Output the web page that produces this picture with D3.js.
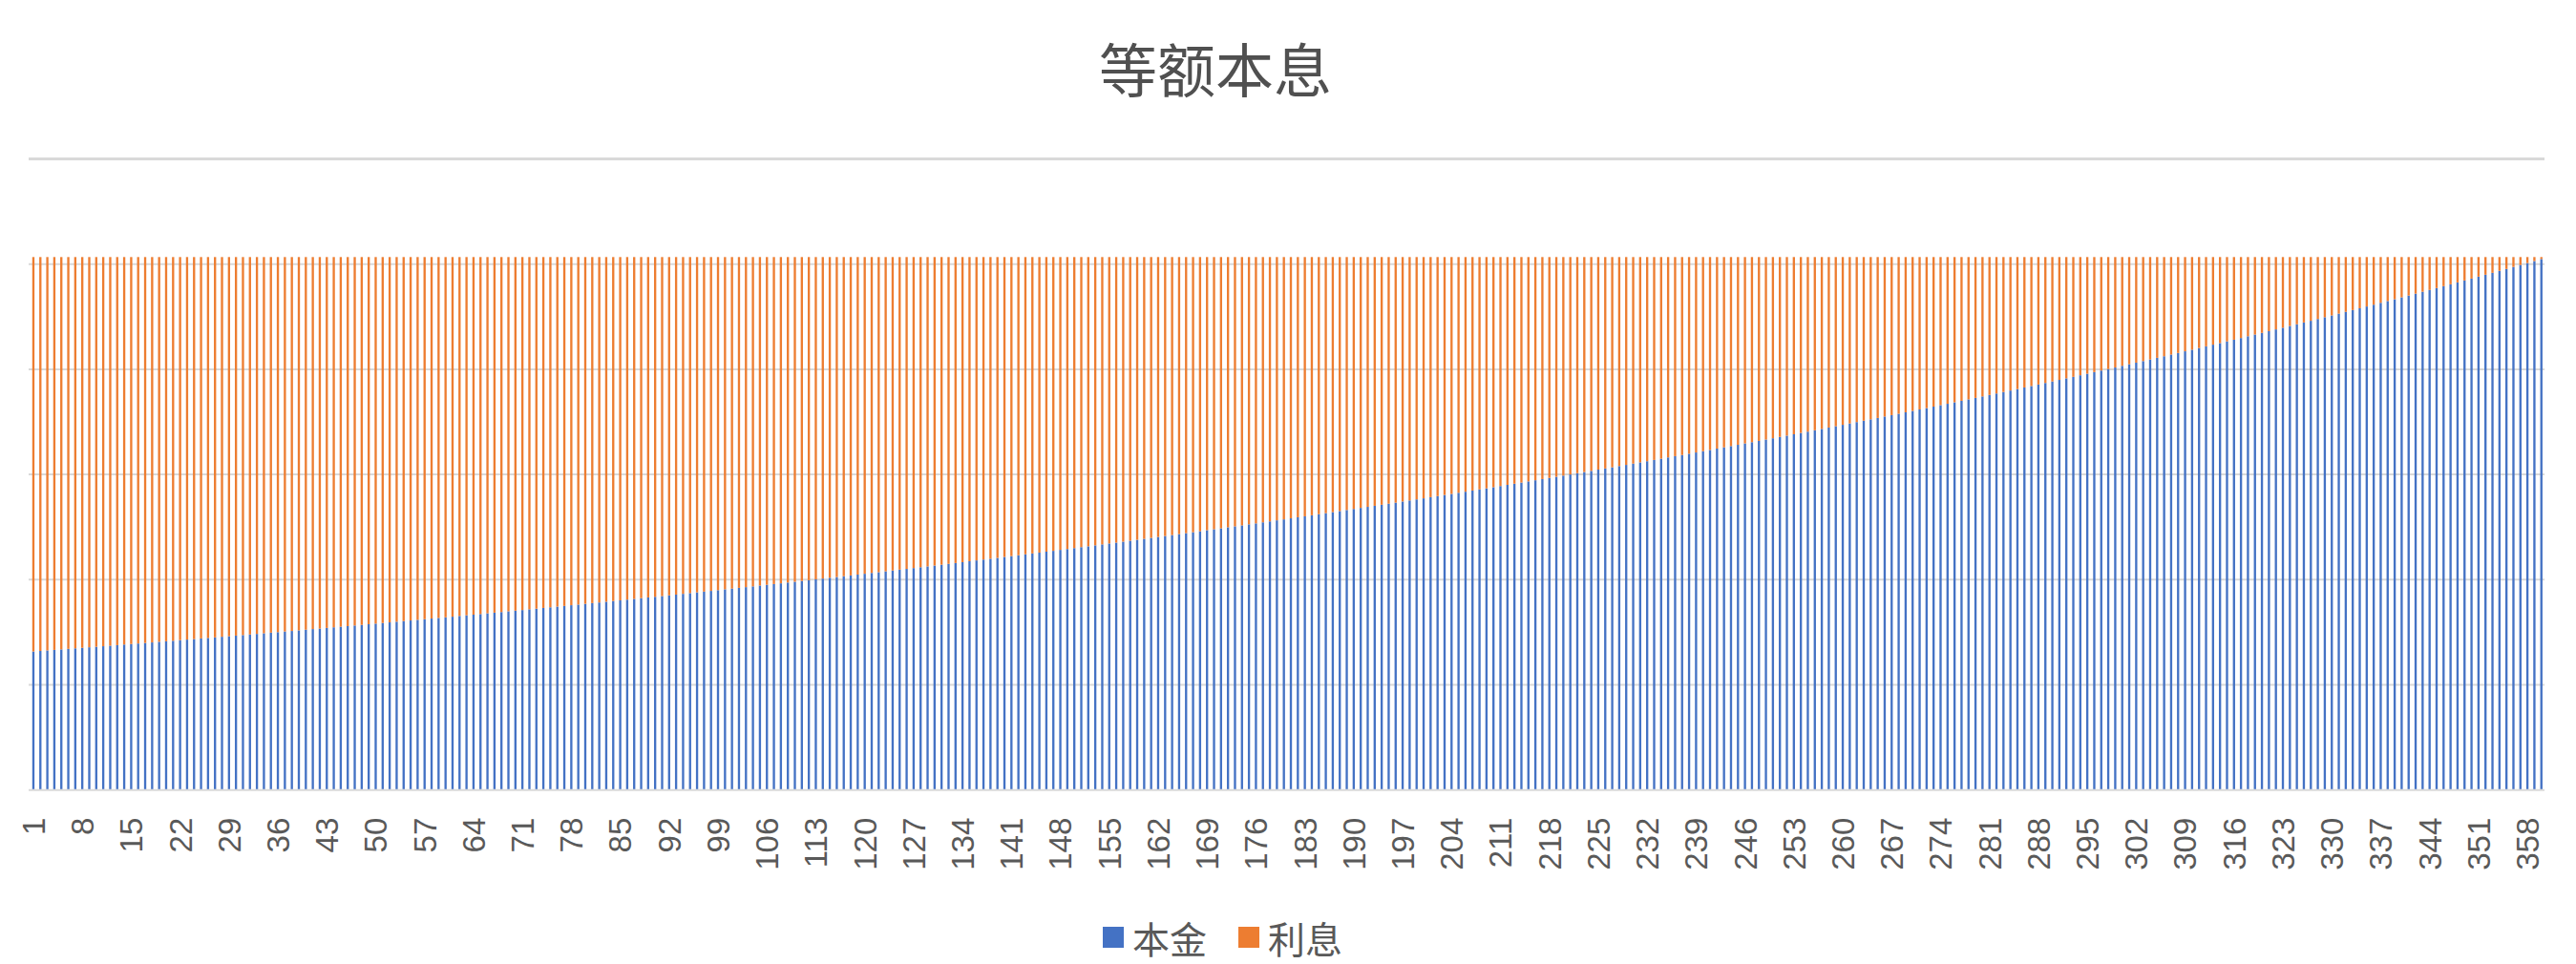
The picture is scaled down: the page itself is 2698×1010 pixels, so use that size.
<!DOCTYPE html>
<html>
<head>
<meta charset="utf-8">
<script src="https://cdn.jsdelivr.net/npm/d3@7"></script>
<style>
  html, body { margin: 0; padding: 0; background: #fff; }
  svg { display: block; }
</style>
</head>
<body>
<svg id="chart" width="2698" height="1010"></svg>
<script>
// monthly principal (本金), month 1..360
const principal = [
  1317,1322,1327,1332,1337,1342,1347,1352,1357,1362,
  1367,1372,1377,1383,1388,1393,1398,1403,1409,1414,
  1419,1425,1430,1435,1441,1446,1451,1457,1462,1468,
  1473,1479,1484,1490,1496,1501,1507,1512,1518,1524,
  1530,1535,1541,1547,1553,1558,1564,1570,1576,1582,
  1588,1594,1600,1606,1612,1618,1624,1630,1636,1642,
  1648,1655,1661,1667,1673,1680,1686,1692,1699,1705,
  1711,1718,1724,1731,1737,1744,1750,1757,1763,1770,
  1777,1783,1790,1797,1803,1810,1817,1824,1831,1837,
  1844,1851,1858,1865,1872,1879,1886,1893,1900,1908,
  1915,1922,1929,1936,1944,1951,1958,1965,1973,1980,
  1988,1995,2003,2010,2018,2025,2033,2040,2048,2056,
  2064,2071,2079,2087,2095,2102,2110,2118,2126,2134,
  2142,2150,2158,2166,2175,2183,2191,2199,2207,2216,
  2224,2232,2241,2249,2257,2266,2274,2283,2291,2300,
  2309,2317,2326,2335,2344,2352,2361,2370,2379,2388,
  2397,2406,2415,2424,2433,2442,2451,2460,2470,2479,
  2488,2498,2507,2516,2526,2535,2545,2554,2564,2573,
  2583,2593,2602,2612,2622,2632,2642,2652,2662,2672,
  2682,2692,2702,2712,2722,2732,2743,2753,2763,2773,
  2784,2794,2805,2815,2826,2836,2847,2858,2868,2879,
  2890,2901,2912,2923,2934,2945,2956,2967,2978,2989,
  3000,3012,3023,3034,3046,3057,3068,3080,3091,3103,
  3115,3126,3138,3150,3162,3174,3185,3197,3209,3221,
  3233,3246,3258,3270,3282,3295,3307,3319,3332,3344,
  3357,3369,3382,3395,3407,3420,3433,3446,3459,3472,
  3485,3498,3511,3524,3537,3551,3564,3577,3591,3604,
  3618,3631,3645,3659,3672,3686,3700,3714,3728,3742,
  3756,3770,3784,3798,3812,3827,3841,3855,3870,3884,
  3899,3914,3928,3943,3958,3973,3988,4002,4017,4033,
  4048,4063,4078,4093,4109,4124,4140,4155,4171,4186,
  4202,4218,4234,4249,4265,4281,4297,4314,4330,4346,
  4362,4379,4395,4412,4428,4445,4461,4478,4495,4512,
  4529,4546,4563,4580,4597,4614,4632,4649,4666,4684,
  4701,4719,4737,4754,4772,4790,4808,4826,4844,4862,
  4881,4899,4917,4936,4954,4973,4992,5010,5029,5048
];

// monthly interest (利息)
const interest = [
  3750,3745,3740,3735,3730,3725,3720,3715,3710,3705,
  3700,3695,3690,3684,3679,3674,3669,3664,3658,3653,
  3648,3642,3637,3632,3626,3621,3616,3610,3605,3599,
  3594,3588,3583,3577,3571,3566,3560,3555,3549,3543,
  3537,3532,3526,3520,3514,3509,3503,3497,3491,3485,
  3479,3473,3467,3461,3455,3449,3443,3437,3431,3425,
  3419,3412,3406,3400,3394,3387,3381,3375,3368,3362,
  3356,3349,3343,3336,3330,3323,3317,3310,3304,3297,
  3290,3284,3277,3270,3264,3257,3250,3243,3236,3230,
  3223,3216,3209,3202,3195,3188,3181,3174,3167,3159,
  3152,3145,3138,3131,3123,3116,3109,3102,3094,3087,
  3079,3072,3064,3057,3049,3042,3034,3027,3019,3011,
  3003,2996,2988,2980,2972,2965,2957,2949,2941,2933,
  2925,2917,2909,2901,2892,2884,2876,2868,2860,2851,
  2843,2835,2826,2818,2810,2801,2793,2784,2776,2767,
  2758,2750,2741,2732,2723,2715,2706,2697,2688,2679,
  2670,2661,2652,2643,2634,2625,2616,2607,2597,2588,
  2579,2569,2560,2551,2541,2532,2522,2513,2503,2494,
  2484,2474,2465,2455,2445,2435,2425,2415,2405,2395,
  2385,2375,2365,2355,2345,2335,2324,2314,2304,2294,
  2283,2273,2262,2252,2241,2231,2220,2209,2199,2188,
  2177,2166,2155,2144,2133,2122,2111,2100,2089,2078,
  2067,2055,2044,2033,2021,2010,1999,1987,1976,1964,
  1952,1941,1929,1917,1905,1893,1882,1870,1858,1846,
  1834,1821,1809,1797,1785,1772,1760,1748,1735,1723,
  1710,1698,1685,1672,1660,1647,1634,1621,1608,1595,
  1582,1569,1556,1543,1530,1516,1503,1490,1476,1463,
  1449,1436,1422,1408,1395,1381,1367,1353,1339,1325,
  1311,1297,1283,1269,1255,1240,1226,1212,1197,1183,
  1168,1153,1139,1124,1109,1094,1079,1065,1050,1034,
  1019,1004,989,974,958,943,927,912,896,881,
  865,849,833,818,802,786,770,753,737,721,
  705,688,672,655,639,622,606,589,572,555,
  538,521,504,487,470,453,435,418,401,383,
  366,348,330,313,295,277,259,241,223,205,
  186,168,150,131,113,94,75,57,38,19
];

const months = d3.range(1, principal.length + 1);

const tickLabels = [1,8,15,22,29,36,43,50,57,64,71,78,85,92,99,106,113,120,127,134,
  141,148,155,162,169,176,183,190,197,204,211,218,225,232,239,246,253,260,267,274,
  281,288,295,302,309,316,323,330,337,344,351,358];

const seriesNames = ["本金", "利息"];
const seriesColors = ["#4472C4", "#ED7D31"];
const gridValues = [1000, 2000, 3000, 4000, 5000];

const svg = d3.select("#chart");
const textColor = "#595959";
const lineColor = "#D9D9D9";

// title
svg.append("text")
  .attr("x", 1273)
  .attr("y", 70)
  .attr("text-anchor", "middle")
  .attr("dominant-baseline", "central")
  .attr("font-family", "'Noto Sans CJK SC', sans-serif")
  .attr("font-size", 61)
  .attr("fill", "#505050")
  .text("等额本息");

// thin rule under the title
svg.append("line")
  .attr("x1", 30).attr("x2", 2665)
  .attr("y1", 166.5).attr("y2", 166.5)
  .attr("stroke", lineColor)
  .attr("stroke-width", 3);

const x = d3.scaleBand()
  .domain(months)
  .range([31.3, 2665.4])
  .paddingInner(0.68)
  .paddingOuter(0.34);

const y = d3.scaleLinear()
  .domain([0, 5000])
  .range([827.7, 276.7]);

// gridlines
svg.append("g")
  .selectAll("line")
  .data(gridValues)
  .join("line")
  .attr("x1", 30).attr("x2", 2665)
  .attr("y1", d => y(d)).attr("y2", d => y(d))
  .attr("stroke", lineColor)
  .attr("stroke-width", 2);

const rows = months.map((m, i) => ({ month: m, "本金": principal[i], "利息": interest[i] }));
const stacked = d3.stack().keys(seriesNames)(rows);

svg.append("g")
  .selectAll("g")
  .data(stacked)
  .join("g")
  .attr("fill", (d, i) => seriesColors[i])
  .selectAll("rect")
  .data(d => d)
  .join("rect")
  .attr("x", d => x(d.data.month))
  .attr("width", x.bandwidth())
  .attr("y", d => y(d[1]))
  .attr("height", d => y(d[0]) - y(d[1]));

// category axis
const xAxis = svg.append("g")
  .attr("transform", `translate(0,${y(0)})`)
  .call(d3.axisBottom(x).tickValues(tickLabels).tickSize(0).tickSizeOuter(0));

xAxis.select(".domain")
  .attr("stroke", lineColor)
  .attr("stroke-width", 2)
  .attr("d", "M30,0H2665");

xAxis.selectAll("text")
  .attr("transform", "rotate(-90)")
  .attr("x", -29)
  .attr("y", 0)
  .attr("dy", "0.36em")
  .attr("text-anchor", "end")
  .attr("font-family", "'Liberation Sans', Arial, sans-serif")
  .attr("font-size", 33)
  .attr("fill", textColor);

// legend
const legendX = [1155, 1297];
const legend = svg.append("g")
  .selectAll("g")
  .data(seriesNames)
  .join("g")
  .attr("transform", (d, i) => `translate(${legendX[i]},971)`);

legend.append("rect")
  .attr("width", 22).attr("height", 22)
  .attr("fill", (d, i) => seriesColors[i]);

legend.append("text")
  .attr("x", 31)
  .attr("y", 11)
  .attr("dominant-baseline", "central")
  .attr("font-family", "'Noto Sans CJK SC', sans-serif")
  .attr("font-size", 39)
  .attr("fill", textColor)
  .text(d => d);
</script>
</body>
</html>
